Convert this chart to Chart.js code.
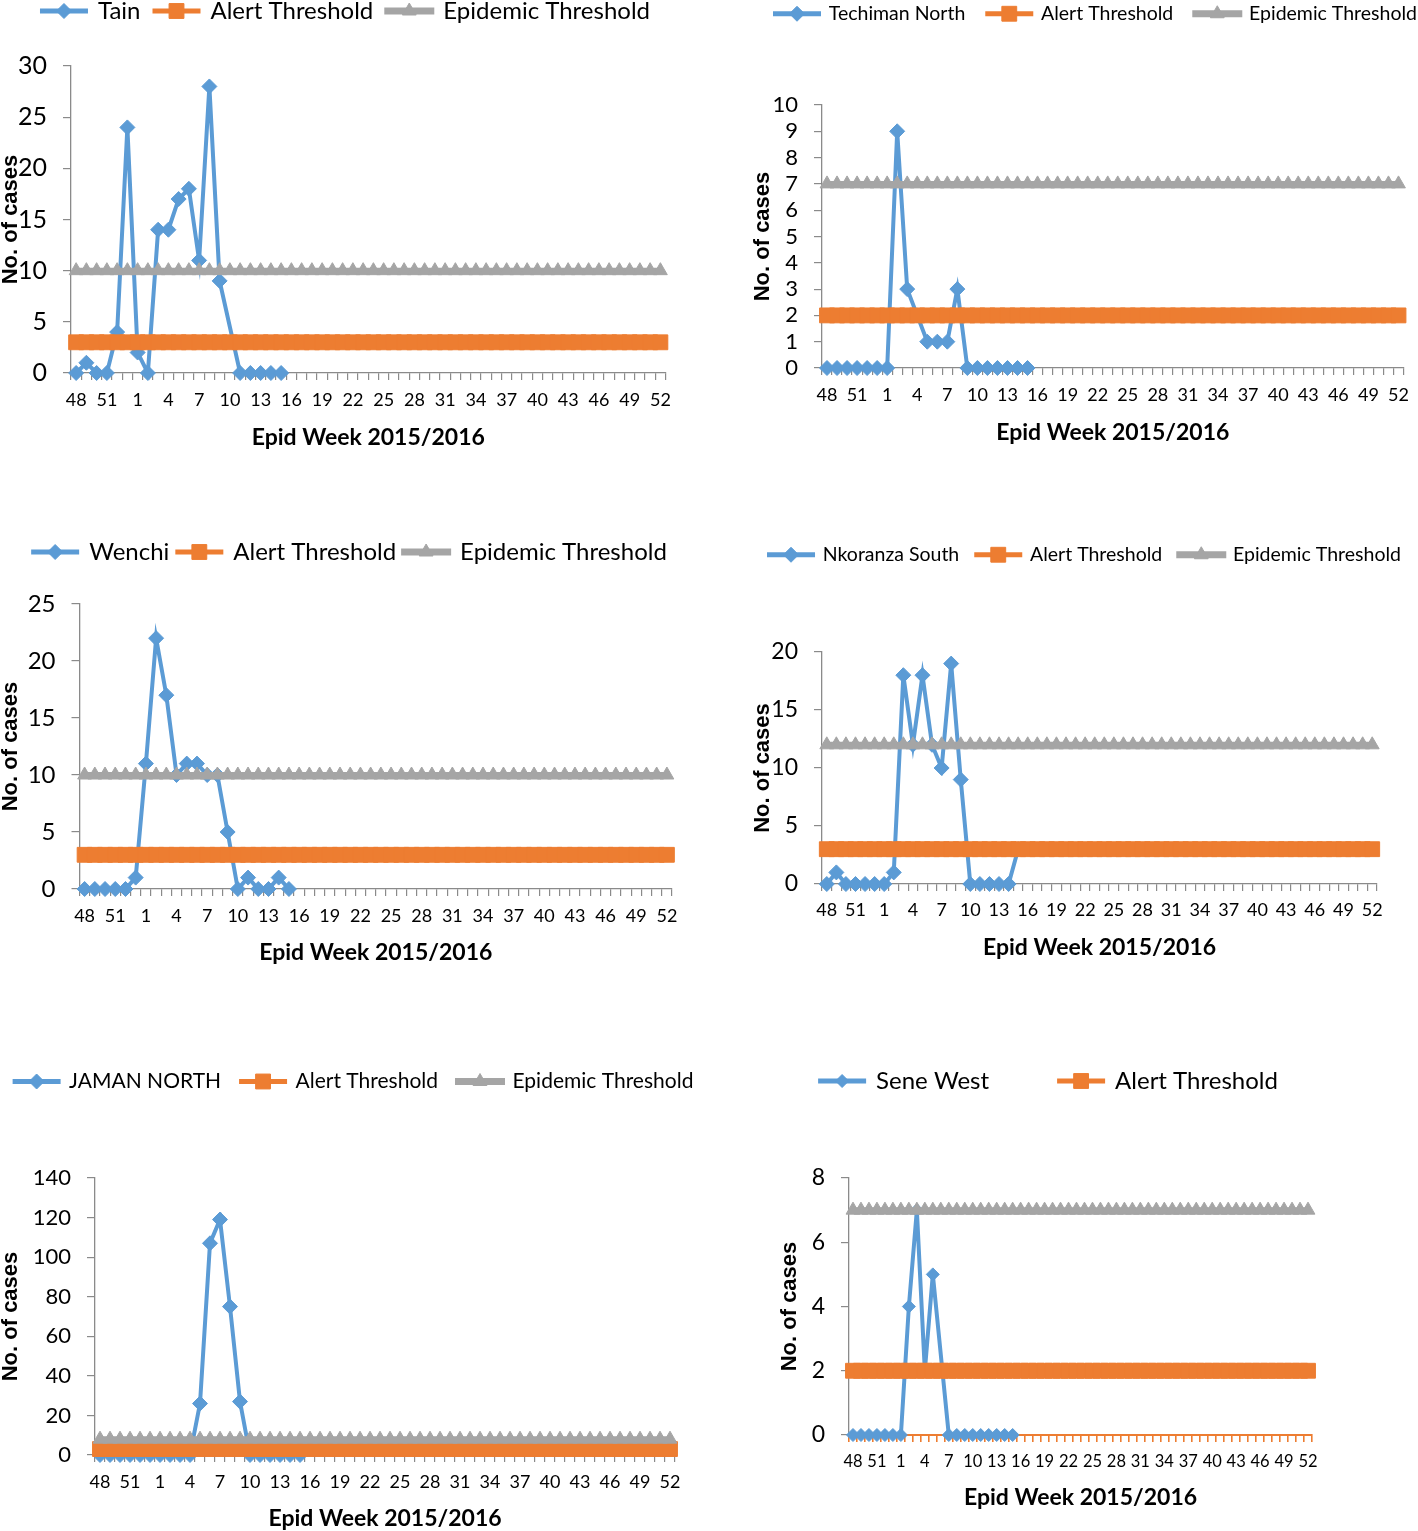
<!DOCTYPE html>
<html>
<head>
<meta charset="utf-8">
<title>Weekly cases by district, Epid Week 2015/2016</title>
<script src="https://cdn.jsdelivr.net/npm/chart.js@4.4.1/dist/chart.umd.min.js"></script>
<style>
  html, body { margin: 0; padding: 0; background: #ffffff; }
  body { width: 1418px; height: 1531px; position: relative; overflow: hidden; }
  canvas { position: absolute; }
</style>
</head>
<body>
<canvas id="tain"></canvas>
<canvas id="techiman"></canvas>
<canvas id="wenchi"></canvas>
<canvas id="nkoranza"></canvas>
<canvas id="jaman"></canvas>
<canvas id="sene"></canvas>
<script>
// epid weeks 48-53 of 2015, then 1-52 of 2016
const weeks = [48, 49, 50, 51, 52, 53,
  1, 2, 3, 4, 5, 6, 7, 8, 9, 10, 11, 12, 13, 14, 15, 16, 17, 18, 19, 20,
  21, 22, 23, 24, 25, 26, 27, 28, 29, 30, 31, 32, 33, 34, 35, 36, 37, 38, 39, 40,
  41, 42, 43, 44, 45, 46, 47, 48, 49, 50, 51, 52];

// weekly cases (week 48 of 2015 to week 15 of 2016), null = no report
const tainCases     = [0, 1, 0, 0, 4, 24, 2, 0, 14, 14, 17, 18, 11, 28, 9, null, 0, 0, 0, 0, 0];
const techimanCases = [0, 0, 0, 0, 0, 0, 0, 9, 3, 2, 1, 1, 1, 3, 0, 0, 0, 0, 0, 0, 0];
const wenchiCases   = [0, 0, 0, 0, 0, 1, 11, 22, 17, 10, 11, 11, 10, 10, 5, 0, 1, 0, 0, 1, 0];
const nkoranzaCases = [0, 1, 0, 0, 0, 0, 0, 1, 18, 12, 18, 12, 10, 19, 9, 0, 0, 0, 0, 0, 3];
const jamanCases    = [0, 0, 0, 0, 0, 0, 0, 0, 0, 0, 26, 107, 119, 75, 27, 0, 0, 0, 0, 0, 0];
const seneCases     = [0, 0, 0, 0, 0, 0, 0, 4, 7, 2, 5, null, 0, 0, 0, 0, 0, 0, 0, 0, 0];

// alert / epidemic thresholds (cases per week)
const alertLevels    = [3, 2, 3, 3, 3, 2];
const epidemicLevels = [10, 7, 10, 12, 8, 7];

const districtNames = ['Tain', 'Techiman North', 'Wenchi', 'Nkoranza South', 'JAMAN NORTH', 'Sene West'];
const yMaxes  = [30, 10, 25, 20, 140, 8];
const ySteps  = [5, 1, 5, 5, 20, 2];

const BLUE = '#5B9BD5';
const ORANGE = '#ED7D31';
const GRAY = '#A5A5A5';
const AXIS = '#8A8A8A';

// page layout of each panel
const layouts = [
  { id: 'tain', plot: {left: 71, right: 665.5, top: 66, bottom: 373},
    legendX: 345.5, legendY: 11, legendSize: 24, legendPad: 14,
    yTickSize: 25, xTickSize: 18, xLabelY: 400, xTitleY: 437, yTitleX: 11 },
  { id: 'techiman', plot: {left: 822, right: 1403.5, top: 105, bottom: 368},
    legendX: 1095.5, legendY: 14, legendSize: 19.5, legendPad: 22,
    yTickSize: 22, xTickSize: 18, xLabelY: 395, xTitleY: 432, yTitleX: 763 },
  { id: 'wenchi', plot: {left: 79.5, right: 672, top: 604, bottom: 889},
    legendX: 350, legendY: 552, legendSize: 24, legendPad: 8,
    yTickSize: 24, xTickSize: 18, xLabelY: 916, xTitleY: 952, yTitleX: 11 },
  { id: 'nkoranza', plot: {left: 822, right: 1377, top: 652, bottom: 884},
    legendX: 1085, legendY: 555, legendSize: 19.5, legendPad: 17,
    yTickSize: 23, xTickSize: 18, xLabelY: 910, xTitleY: 947, yTitleX: 763 },
  { id: 'jaman', plot: {left: 95, right: 675, top: 1178, bottom: 1455},
    legendX: 354, legendY: 1081, legendSize: 21, legendPad: 20,
    yTickSize: 22, xTickSize: 18, xLabelY: 1482, xTitleY: 1518, yTitleX: 11 },
  { id: 'sene', plot: {left: 849, right: 1312, top: 1178, bottom: 1435},
    legendX: 1049, legendY: 1081, legendSize: 24, legendPad: 70,
    yTickSize: 23, xTickSize: 16.5, xLabelY: 1462, xTitleY: 1497, yTitleX: 790,
    xAxisColor: ORANGE, hideEpidemicLegend: true, diamond: 6.5 }
];

const allCases = [tainCases, techimanCases, wenchiCases, nkoranzaCases, jamanCases, seneCases];

// excel style legend: line with the series marker on top of it
const legendMarkers = {
  id: 'legendMarkers',
  afterDraw(chart) {
    const lg = chart.legend;
    if (!lg || !lg.legendHitBoxes) return;
    const ctx = chart.ctx;
    const boxW = lg.options.labels.boxWidth;
    lg.legendItems.forEach((item, i) => {
      const hb = lg.legendHitBoxes[i];
      const ds = chart.data.datasets[item.datasetIndex];
      ctx.save();
      ctx.fillStyle = ds.pointBackgroundColor;
      ctx.strokeStyle = ds.pointBorderColor;
      ctx.lineWidth = 1;
      Chart.helpers.drawPoint(ctx, {pointStyle: ds.pointStyle, radius: ds.pointRadius, rotation: 0, borderWidth: 1},
        hb.left + boxW / 2, hb.top + hb.height / 2);
      ctx.restore();
    });
  }
};

function buildChart(k) {
  const cfg = layouts[k];
  const canvas = document.getElementById(cfg.id);
  const width = 800;
  const left = Math.round(cfg.legendX - width / 2);
  const top = Math.round(cfg.legendY - cfg.legendPad - cfg.legendSize / 2);
  const xTitleSize = 23, yTitleSize = 22;
  const bottom = Math.round(cfg.xTitleY + xTitleSize * 0.6);
  const height = bottom - top;
  canvas.width = width;
  canvas.height = height;
  canvas.style.left = left + 'px';
  canvas.style.top = top + 'px';
  canvas.style.width = width + 'px';
  canvas.style.height = height + 'px';

  const legendBottom = top + cfg.legendPad + cfg.legendSize + 10;
  const spacer = cfg.plot.top - legendBottom - 1;
  const yWidth = cfg.plot.left - left;
  const rightGap = left + width - cfg.plot.right;
  const xHeight = bottom - cfg.plot.bottom;
  const xTickPad = cfg.xLabelY - cfg.plot.bottom - 7 - cfg.xTickSize * 0.6;
  const yTitlePad = cfg.yTitleX - left - yTitleSize * 0.6;
  const xColor = cfg.xAxisColor || AXIS;

  const alertLine = weeks.map(() => alertLevels[k]);
  const epidemicLine = weeks.map(() => epidemicLevels[k]);

  return new Chart(canvas, {
    type: 'line',
    data: {
      labels: weeks,
      datasets: [
        {
          label: districtNames[k],
          data: allCases[k],
          order: 2,
          borderColor: BLUE,
          backgroundColor: BLUE,
          borderWidth: 4,
          pointStyle: 'rectRot',
          pointRadius: cfg.diamond || 7.5,
          pointBackgroundColor: BLUE,
          pointBorderColor: BLUE,
          pointBorderWidth: 1,
          tension: 0,
          spanGaps: true,
          clip: false
        },
        {
          label: 'Alert Threshold',
          data: alertLine,
          order: 1,
          borderColor: ORANGE,
          backgroundColor: ORANGE,
          borderWidth: 4,
          pointStyle: 'rect',
          pointRadius: 10.5,
          pointBackgroundColor: ORANGE,
          pointBorderColor: ORANGE,
          pointBorderWidth: 1,
          clip: false
        },
        {
          label: 'Epidemic Threshold',
          data: epidemicLine,
          order: 0,
          borderColor: GRAY,
          backgroundColor: GRAY,
          borderWidth: 6,
          pointStyle: 'triangle',
          pointRadius: 8,
          pointBackgroundColor: GRAY,
          pointBorderColor: GRAY,
          pointBorderWidth: 1,
          clip: false
        }
      ]
    },
    options: {
      responsive: false,
      animation: false,
      devicePixelRatio: 1,
      events: [],
      layout: { padding: 0 },
      plugins: {
        tooltip: { enabled: false },
        legend: {
          position: 'top',
          align: 'center',
          reverse: true,
          labels: {
            boxWidth: 44,
            boxHeight: 1,
            padding: cfg.legendPad,
            color: '#000',
            font: { family: 'Lato', size: cfg.legendSize },
            filter: (item) => !(cfg.hideEpidemicLegend && item.text === 'Epidemic Threshold')
          }
        },
        // empty spacer between the legend and the plot
        title: {
          display: true,
          text: '',
          position: 'top',
          weight: 500,
          font: { size: 1, lineHeight: 1 },
          padding: { top: spacer, bottom: 0 }
        }
      },
      scales: {
        x: {
          type: 'category',
          offset: true,
          grid: { display: true, drawOnChartArea: false, drawTicks: true, tickLength: 7, offset: true,
                  color: xColor, lineWidth: cfg.xAxisColor ? 1.6 : 1.2 },
          border: { display: true, color: xColor, width: cfg.xAxisColor ? 2 : 1.3 },
          ticks: {
            autoSkip: false,
            maxRotation: 0,
            minRotation: 0,
            padding: xTickPad,
            color: '#000',
            font: { family: 'Lato', size: cfg.xTickSize },
            callback: (v, i) => (i % 3 === 0 ? String(weeks[i]) : '')
          },
          title: {
            display: true,
            text: 'Epid Week 2015/2016',
            color: '#000',
            font: { family: 'Lato', weight: 'bold', size: xTitleSize },
            padding: { top: 0, bottom: 0 }
          },
          afterFit: (s) => { s.height = xHeight; s.paddingLeft = 0; s.paddingRight = 0; }
        },
        y: {
          min: 0,
          max: yMaxes[k],
          grid: { display: true, drawOnChartArea: false, drawTicks: true, tickLength: 8, color: AXIS, lineWidth: 1.2 },
          border: { display: true, color: AXIS, width: 1.3 },
          ticks: {
            stepSize: ySteps[k],
            autoSkip: false,
            padding: 16,
            color: '#000',
            font: { family: 'Lato', size: cfg.yTickSize }
          },
          title: {
            display: true,
            text: 'No. of cases',
            color: '#000',
            font: { family: 'Liberation Sans', weight: 'bold', size: yTitleSize },
            padding: { top: yTitlePad, bottom: 0 }
          },
          afterFit: (s) => { s.width = yWidth; s.paddingTop = 0; s.paddingBottom = 0; }
        },
        // invisible right box so the legend can be wider than the plot
        yRight: {
          type: 'linear',
          axis: 'y',
          position: 'right',
          grid: { display: false },
          border: { display: false },
          ticks: { display: false },
          afterFit: (s) => { s.width = rightGap; s.paddingTop = 0; s.paddingBottom = 0; }
        }
      }
    },
    plugins: [legendMarkers]
  });
}

layouts.forEach((cfg, k) => buildChart(k));
</script>
</body>
</html>
